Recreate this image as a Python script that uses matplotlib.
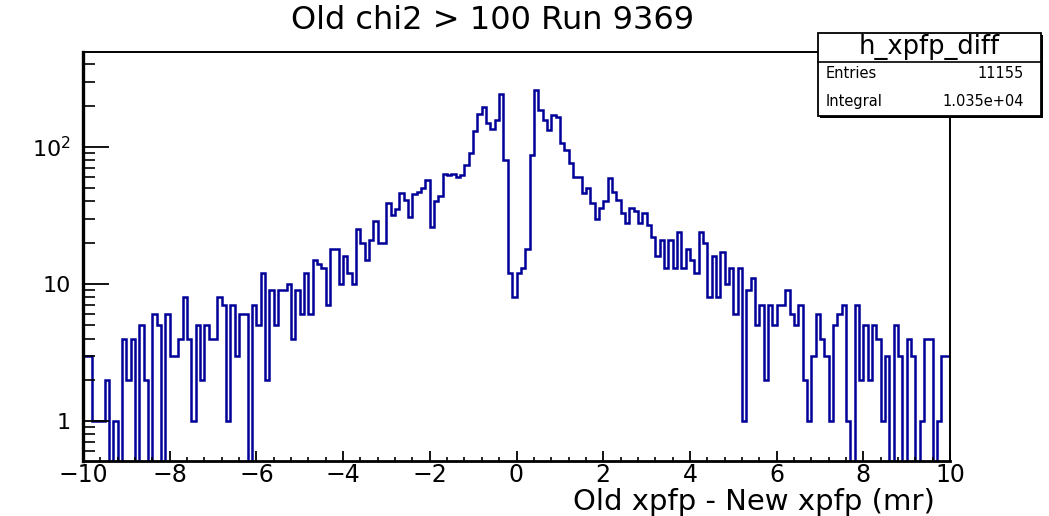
import numpy as np
import matplotlib
matplotlib.use("Agg")
import matplotlib.pyplot as plt
from matplotlib.ticker import FixedLocator, MultipleLocator, LogLocator, NullFormatter
from matplotlib.patches import Rectangle

# ---- data ----
x_min, x_max, n_bins = -10.0, 10.0, 200
counts = [
    3, 3, 1, 1, 1, 2, 0, 1, 0, 4,
    2, 4, 0, 5, 2, 0, 6, 5, 0, 6,
    3, 3, 4, 8, 4, 1, 5, 2, 5, 4,
    4, 8, 7, 1, 7, 3, 6, 6, 0, 7,
    5, 12, 2, 9, 5, 9, 9, 10, 4, 9,
    6, 12, 6, 15, 14, 13, 7, 18, 18, 10,
    16, 12, 10, 25, 20, 15, 21, 29, 20, 20,
    39, 32, 35, 46, 41, 31, 45, 47, 50, 57,
    26, 40, 44, 64, 62, 64, 60, 62, 74, 90,
    130, 175, 196, 150, 135, 158, 245, 80, 12, 8,
    12, 13, 18, 87, 260, 186, 158, 133, 170, 165,
    106, 95, 76, 60, 60, 46, 50, 39, 30, 36,
    40, 59, 47, 41, 33, 28, 36, 34, 28, 33,
    27, 22, 16, 21, 13, 21, 13, 24, 13, 18,
    15, 12, 24, 20, 8, 16, 8, 17, 10, 13,
    6, 13, 1, 9, 11, 5, 7, 2, 7, 5,
    7, 7, 9, 6, 5, 7, 2, 1, 3, 6,
    4, 3, 1, 5, 6, 7, 1, 0, 7, 2,
    5, 2, 5, 4, 1, 3, 0, 5, 3, 0,
    4, 3, 0, 1, 4, 4, 0, 1, 3, 3,
]
x_ticks = [-10, -8, -6, -4, -2, 0, 2, 4, 6, 8, 10]
y_ticks = [1, 10, 100]
y_ticklabels = ["1", "10", r"$10^{2}$"]
title = "Old chi2 > 100 Run 9369"
x_label = "Old xpfp - New xpfp (mr)"
stat_name = "h_xpfp_diff"
stat_rows = [("Entries", "11155"), ("Integral", "1.035e+04")]

# ---- style ----
plt.rcParams["font.family"] = ["DejaVu Sans"]
plt.rcParams["mathtext.fontset"] = "dejavusans"
W, H = 1049, 516
fig = plt.figure(figsize=(W / 100, H / 100), dpi=100)
L, R, T, B = 83, 950, 52, 461
ax = fig.add_axes([L / W, 1 - B / H, (R - L) / W, (B - T) / H])

edges = np.linspace(x_min, x_max, n_bins + 1)
vals = np.array(counts, dtype=float)
ax.stairs(vals, edges, color="#000099", linewidth=1.8, baseline=None)

ax.set_yscale("log", nonpositive="clip")
ax.set_xlim(x_min, x_max)
ax.set_ylim(0.511, 493)

ax.xaxis.set_major_locator(FixedLocator(x_ticks))
ax.xaxis.set_minor_locator(MultipleLocator(0.4))
ax.yaxis.set_major_locator(FixedLocator(y_ticks))
ax.set_yticklabels(y_ticklabels)
ax.yaxis.set_minor_locator(LogLocator(base=10, subs=np.arange(2, 10)))
ax.yaxis.set_minor_formatter(NullFormatter())

ax.tick_params(axis="x", which="major", direction="in", length=7.2, width=1.3,
               labelsize=17, pad=1.5)
ax.tick_params(axis="x", which="minor", direction="in", length=3.2, width=1.2)
ax.tick_params(axis="y", which="major", direction="in", length=18.5, width=1.3,
               labelsize=16, pad=9)
ax.tick_params(axis="y", which="minor", direction="in", length=8.6, width=1.2)

ax.spines["left"].set_linewidth(2.4)
ax.spines["bottom"].set_linewidth(2.0)
ax.spines["top"].set_linewidth(1.4)
ax.spines["right"].set_linewidth(1.4)

fig.text(493 / W, 1 - 29 / H, title, ha="center", va="baseline", fontsize=23)
fig.text(935 / W, 1 - 510 / H, x_label, ha="right", va="baseline", fontsize=21)

# ---- stats box ----
bx0, bx1, by0, by1, bsep = 818, 1041, 33, 116, 62
shadow = Rectangle((bx0 / W + 2 / W, 1 - by1 / H - 2 / H), (bx1 - bx0) / W, (by1 - by0) / H,
                   transform=fig.transFigure, facecolor="black", edgecolor="none", zorder=9)
box = Rectangle((bx0 / W, 1 - by1 / H), (bx1 - bx0) / W, (by1 - by0) / H,
                transform=fig.transFigure, facecolor="white", edgecolor="black",
                linewidth=1.3, zorder=10)
fig.patches.extend([shadow, box])
fig.lines.append(plt.Line2D([bx0 / W, bx1 / W], [1 - bsep / H, 1 - bsep / H],
                            transform=fig.transFigure, color="black", linewidth=1.2, zorder=11))
fig.text((bx0 + bx1) / 2 / W, 1 - 54 / H, stat_name, ha="center", va="baseline",
         fontsize=18.5, zorder=12)
row_y = [78, 106]
for (lab, val), yy in zip(stat_rows, row_y):
    fig.text(826 / W, 1 - yy / H, lab, ha="left", va="baseline", fontsize=10.5, zorder=12)
    fig.text(1024 / W, 1 - yy / H, val, ha="right", va="baseline", fontsize=10.5, zorder=12)

fig.savefig("out.png", dpi=100)
